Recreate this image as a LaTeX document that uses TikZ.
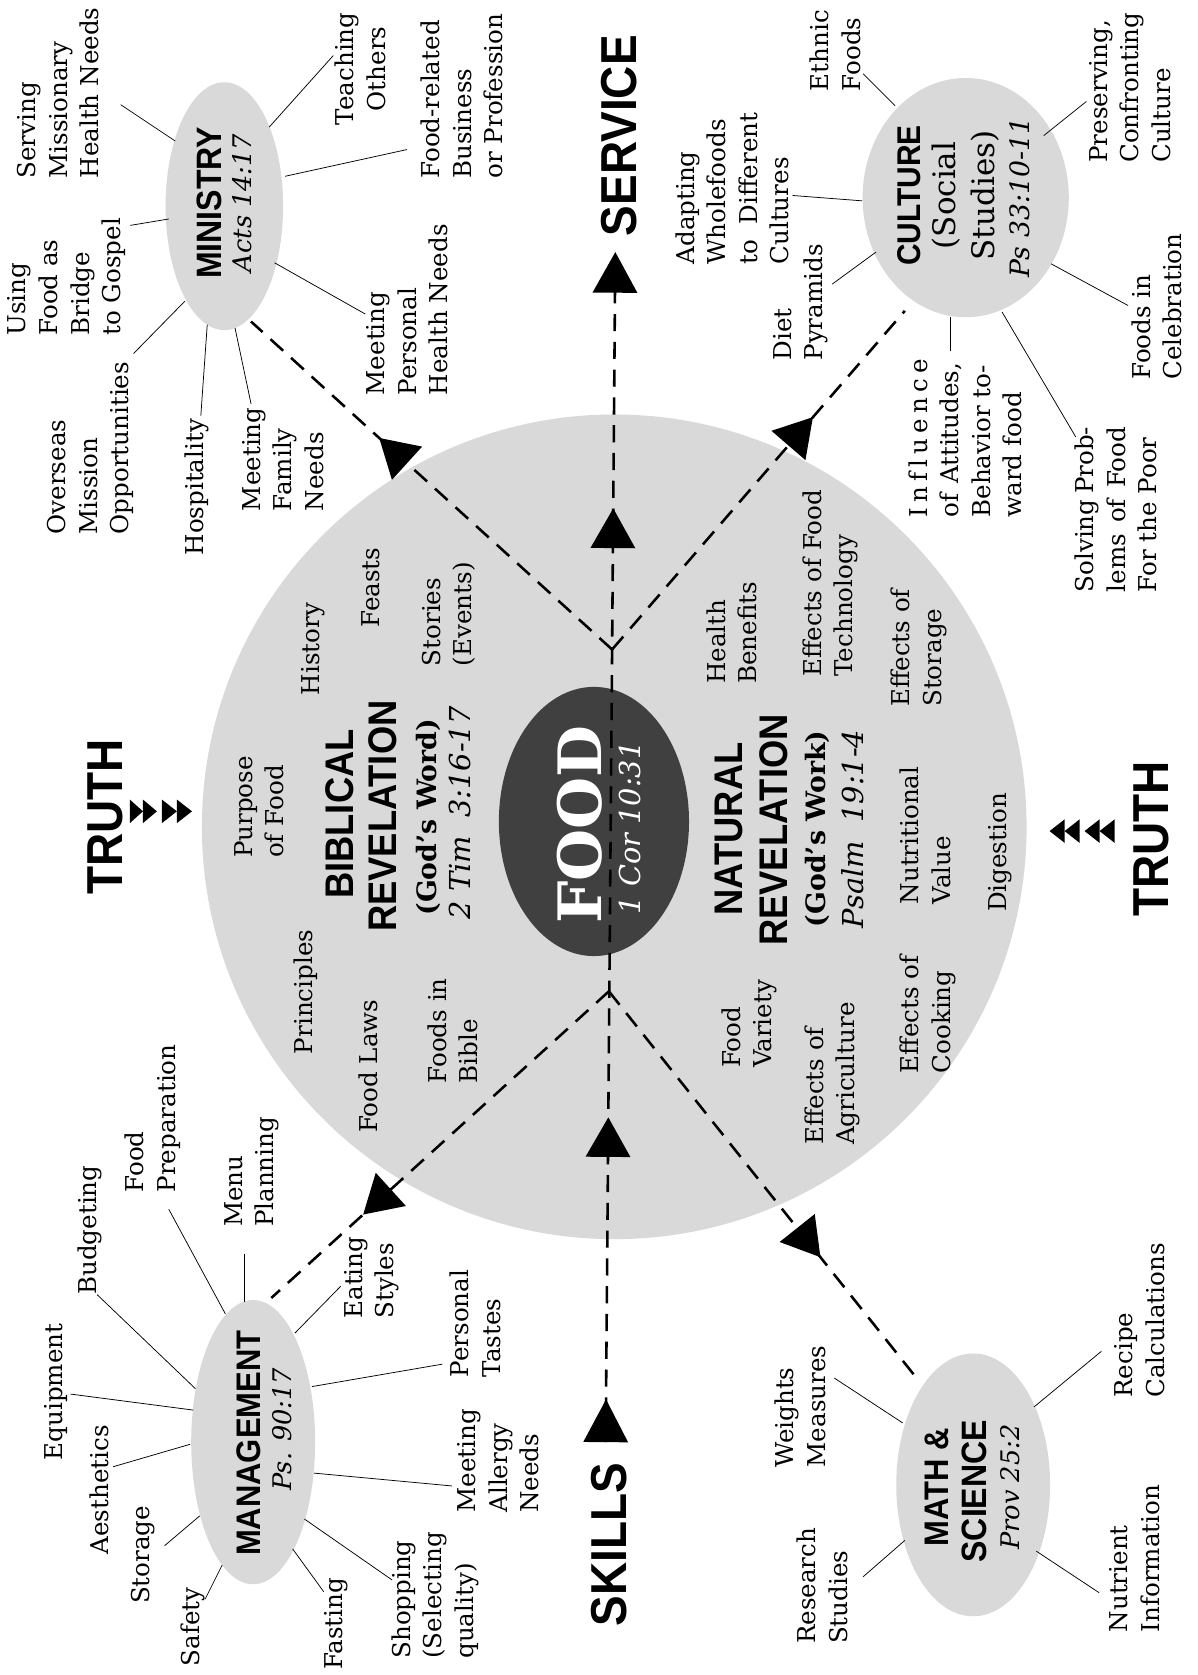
\documentclass[tikz,border=0pt]{standalone}
\usepackage{fontspec}
\usepackage{graphicx}
\setmainfont{DejaVu Serif}
\setsansfont{Liberation Sans}
\usetikzlibrary{shapes.geometric,calc}
\definecolor{lightg}{HTML}{D9D9D9}
\definecolor{darkg}{HTML}{404040}
\newcommand\tallx[1]{\scalebox{1}[1.1]{#1}}
\newcommand\arrhead[2]{\fill ($#2!21pt!90:#1$) -- #1 -- ($#2!21pt!-90:#1$) -- cycle;}
\tikzset{
  lbl/.style={rotate=90, inner sep=0pt, align=left, font=\fontsize{23}{29.5}\selectfont},
  lblc/.style={lbl, align=center},
  hd/.style={rotate=90, inner sep=0pt, font=\sffamily\bfseries\fontsize{#1}{#1}\selectfont},
  itl/.style={rotate=90, inner sep=0pt, font=\itshape\fontsize{#1}{#1}\selectfont},
  rmt/.style={rotate=90, inner sep=0pt, font=\fontsize{#1}{#1}\selectfont},
  bft/.style={rotate=90, inner sep=0pt, font=\bfseries\fontsize{#1}{#1}\selectfont},
  spoke/.style={line width=0.7pt},
  dashline/.style={line width=2.4pt, dash pattern=on 16pt off 10pt},
  blob/.style={ellipse, fill=lightg, inner sep=0pt},
}
\begin{document}
\begin{tikzpicture}[x=1pt,y=-1pt]
\useasboundingbox[fill=white] (0,0) rectangle (1121,1568);

% main shapes
\node[circle, fill=lightg, minimum size=772pt, inner sep=0pt] (big) at (575,774) {};
\node[blob, minimum width=110pt, minimum height=232pt] (min) at (210,193) {};
\node[blob, minimum width=193pt, minimum height=224pt] (cul) at (904,185) {};
\node[blob, minimum width=116pt, minimum height=266pt] (mgt) at (237,1350) {};
\node[blob, minimum width=144pt, minimum height=246pt] (math) at (911,1390) {};
\node[ellipse, fill=darkg, minimum width=178pt, minimum height=252pt, inner sep=0pt] (food) at (556,769) {};

% dashed connectors
\coordinate (junU) at (573,608);
\coordinate (junL) at (570,928);
\coordinate (minE) at (235,301);
\coordinate (culE) at (847,291);
\coordinate (mgtE) at (254,1215);
\coordinate (mathE) at (858,1290);
\coordinate (vb) at (567,1350);
\coordinate (vt) at (576,236);

\draw[dashline] (vb) -- (vt);
\draw[dashline] (junU) -- (minE);
\draw[dashline] (junU) -- (culE);
\draw[dashline] (junL) -- (mgtE);
\draw[dashline] (junL) -- (mathE);

\path (vb) -- (vt)
  coordinate[pos=0.0359] (tA) coordinate[pos=0] (bA)
  coordinate[pos=0.2729] (tB) coordinate[pos=0.2397] (bB)
  coordinate[pos=0.7846] (tC) coordinate[pos=0.7513] (bC)
  coordinate[pos=1] (tD) coordinate[pos=0.9659] (bD);
\path (junU) -- (minE) coordinate[pos=0.645] (tMin) coordinate[pos=0.568] (bMin);
\path (junU) -- (culE) coordinate[pos=0.686] (tCul) coordinate[pos=0.6025] (bCul);
\path (junL) -- (mgtE) coordinate[pos=0.728] (tMgt) coordinate[pos=0.646] (bMgt);
\path (junL) -- (mathE) coordinate[pos=0.6875] (tMath) coordinate[pos=0.612] (bMath);

\arrhead{(tA)}{(bA)}
\arrhead{(tB)}{(bB)}
\arrhead{(tC)}{(bC)}
\arrhead{(tD)}{(bD)}
\arrhead{(tMin)}{(bMin)}
\arrhead{(tCul)}{(bCul)}
\arrhead{(tMgt)}{(bMgt)}
\arrhead{(tMath)}{(bMath)}

% spokes: ministry
\draw[spoke] (113,98) -- (164,132);
\draw[spoke] (312,52) -- (252,119);
\draw[spoke] (381,140) -- (267,165);
\draw[spoke] (342,294) -- (257,246);
\draw[spoke] (122,211) -- (158,205);
\draw[spoke] (125,331) -- (173,282);
\draw[spoke] (188,389) -- (194,304);
\draw[spoke] (235,378) -- (220,307);
% culture
\draw[spoke] (808,69) -- (838,99);
\draw[spoke] (1017,95) -- (977,127);
\draw[spoke] (742,183) -- (807,188);
\draw[spoke] (779,266) -- (820,236);
\draw[spoke] (890,329) -- (890,297);
\draw[spoke] (1056,286) -- (984,247);
\draw[spoke] (1007,409) -- (938,292);
% management
\draw[spoke] (91,1212) -- (183,1300);
\draw[spoke] (158,1132) -- (211,1230);
\draw[spoke] (229,1174) -- (229,1219);
\draw[spoke] (319,1204) -- (276,1248);
\draw[spoke] (414,1277) -- (292,1298);
\draw[spoke] (423,1391) -- (294,1379);
\draw[spoke] (367,1479) -- (285,1422);
\draw[spoke] (303,1490) -- (274,1450);
\draw[spoke] (192,1497) -- (208,1465);
\draw[spoke] (154,1447) -- (187,1419);
\draw[spoke] (106,1373) -- (178,1352);
\draw[spoke] (66,1305) -- (181,1320);
% math
\draw[spoke] (781,1290) -- (845,1332);
\draw[spoke] (808,1476) -- (847,1442);
\draw[spoke] (1031,1265) -- (968,1317);
\draw[spoke] (1029,1491) -- (970,1452);

% TRUTH chevrons
\fill (121.6,748.5) -- (133.8,759.5) -- (121.6,770.5) -- cycle;
\fill (133.8,748.5) -- (146.9,759.5) -- (133.8,770.5) -- cycle;
\fill (151.6,748.5) -- (165.6,759.5) -- (151.6,770.5) -- cycle;
\fill (165.6,748.5) -- (179.7,759.5) -- (165.6,770.5) -- cycle;
\fill (996.6,767) -- (982.5,778) -- (996.6,789) -- cycle;
\fill (1010.6,767) -- (996.6,778) -- (1010.6,789) -- cycle;
\fill (1029.3,767) -- (1015.3,778) -- (1029.3,789) -- cycle;
\fill (1043.4,767) -- (1029.3,778) -- (1043.4,789) -- cycle;

% big headings
\node[hd=43] (truthT) at (99,764.5) {\tallx{TRUTH}};
\node[hd=43] (truthB) at (1078,785.5) {\tallx{TRUTH}};
\node[hd=43] (service) at (580,127) {\tallx{SERVICE}};
\node[hd=43] (skills) at (570,1446) {\tallx{SKILLS}};

% ministry group
\node[hd=30] (mintxt) at (196,190) {\tallx{MINISTRY}};
\node[itl=24] (acts) at (227,190) {Acts 14:17};
\node[lbl] (serving) at (54.5,87) {Serving\\Missionary\\Health Needs};
\node[lblc] (teaching) at (337.5,64.5) {Teaching\\Others};
\node[lbl] (foodrel) at (432.5,90) {Food-related\\Business\\or Profession};
\node[lbl] (mph) at (381.5,290) {Meeting\\Personal\\Health Needs};
\node[lbl] (using) at (62.5,259) {Using\\Food as\\Bridge\\to Gospel};
\node[lbl] (overseas) at (85,419.5) {Overseas\\Mission\\Opportunities};
\node[lbl] (hosp) at (184.5,456) {Hospitality};
\node[lbl] (mfn) at (265,430) {Meeting\\Family\\Needs};

% culture group
\node[hd=28] (cultxt) at (851,183) {\tallx{CULTURE}};
\node[rmt=29] (social) at (886,183) {(Social};
\node[rmt=29] (studies) at (922,183) {Studies)};
\node[itl=25] (ps33) at (955,185) {Ps 33:10-11};
\node[lbl] (ethnic) at (782,47.5) {Ethnic\\Foods};
\node[lbl] (preserv) at (1057.5,82) {Preserving,\\Confronting\\Culture};
\node[lbl] (adapt) at (685.5,176.5) {Adapting\\Wholefoods\\to~~Different\\Cultures};
\node[lbl] (diet) at (749.5,283) {Diet\\Pyramids};
\node[lbl] (influ) at (903.5,412) {\makebox[145pt][s]{I n f l u e n c e}\\\makebox[145pt][s]{of Attitudes,}\\Behavior to-\\ward food};
\node[lbl] (celeb) at (1083,287) {Foods in\\Celebration};
\node[lbl] (solving) at (1045,477) {\makebox[155pt][s]{Solving Prob-}\\\makebox[155pt][s]{lems of Food}\\For the Poor};

% management group
\node[hd=29] (mgttxt) at (233,1351) {\tallx{MANAGEMENT}};
\node[itl=24] (ps90) at (264,1338) {Ps. 90:17};
\node[lbl] (budget) at (84,1151.5) {Budgeting};
\node[lbl] (foodprep) at (143,1047) {Food\\Preparation};
\node[lbl] (menu) at (235.5,1097) {Menu\\Planning};
\node[lbl] (eating) at (348,1196) {Eating\\Styles};
\node[lbl] (personal) at (445,1239) {Personal\\Tastes};
\node[lbl] (allergy) at (466.5,1367.5) {Meeting\\Allergy\\Needs};
\node[lbl] (shopping) at (407.5,1493.5) {Shopping\\(Selecting\\quality)};
\node[lbl] (fasting) at (314.5,1520) {Fasting};
\node[lbl] (safety) at (181,1523) {Safety};
\node[lbl] (storage) at (133.5,1455.5) {Storage};
\node[lbl] (aesth) at (93,1394.5) {Aesthetics};
\node[lbl] (equip) at (52,1303) {Equipment};

% math group
\node[hd=29] (mathtxt) at (877,1392) {\tallx{MATH \&}};
\node[hd=30] (scitxt) at (912,1396) {\tallx{SCIENCE}};
\node[itl=24] (prov) at (946,1392) {Prov 25:2};
\node[lbl] (weights) at (749,1316.5) {Weights\\Measures};
\node[lbl] (research) at (770,1484.5) {Research\\Studies};
\node[lbl] (recipe) at (1067,1236) {Recipe\\Calculations};
\node[lbl] (nutrient) at (1062,1459) {Nutrient\\Information};

% inside circle: biblical
\node[lbl] (purpose) at (242.5,755.5) {Purpose\\of Food};
\node[lbl] (history) at (293,607.5) {History};
\node[lbl] (feasts) at (347,550) {Feasts};
\node[lbl] (stories) at (420,575) {Stories\\(Events)};
\node[hd=34] (bib1) at (318,762) {\tallx{BIBLICAL}};
\node[hd=34] (bib2) at (358,764) {\tallx{REVELATION}};
\node[bft=25] (bib3) at (401,765) {(God’s Word)};
\node[itl=27] (bib4) at (431,761) {2 Tim~~3:16-17};
\node[lbl] (principles) at (286.5,928.5) {Principles};
\node[lbl] (foodlaws) at (345,998) {Food Laws};
\node[lbl] (foodsbible) at (424,965) {Foods in\\Bible};

% food
\node[bft=56, text=white] (foodtxt) at (543,772) {FOOD};
\node[itl=27, text=white] (cor) at (590,775) {1 Cor 10:31};

% natural
\node[lbl] (health) at (685,592.5) {Health\\Benefits};
\node[lbl] (tech) at (777.5,546) {Effects of Food\\Technology};
\node[lbl] (storage2) at (860,606.5) {Effects of\\Storage};
\node[hd=34] (nat1) at (682,776) {\tallx{NATURAL}};
\node[hd=34] (nat2) at (724,777) {\tallx{REVELATION}};
\node[bft=25] (nat3) at (765,776) {(God’s Work)};
\node[itl=27] (nat4) at (798,776) {Psalm~~19:1-4};
\node[lbl] (nutri) at (866,782) {Nutritional\\Value};
\node[lbl] (digest) at (936,798) {Digestion};
\node[lbl] (variety) at (701.5,958.5) {Food\\Variety};
\node[lbl] (agri) at (779,1005) {Effects of\\Agriculture};
\node[lbl] (cooking) at (868.5,949.5) {Effects of\\Cooking};
\end{tikzpicture}
\end{document}
